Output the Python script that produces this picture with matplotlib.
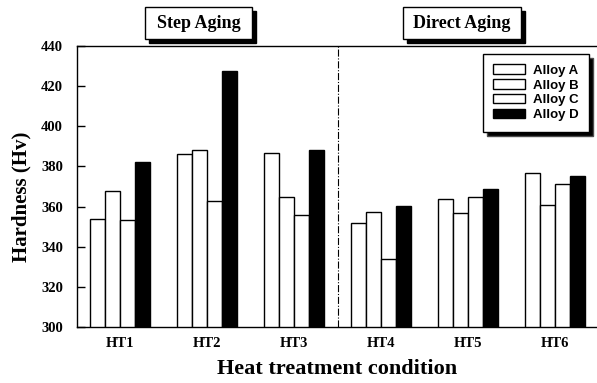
import numpy as np
import matplotlib
matplotlib.use("Agg")
import matplotlib.pyplot as plt
from matplotlib.patches import Rectangle

# hardness values
conditions = ["HT1", "HT2", "HT3", "HT4", "HT5", "HT6"]
alloy_names = ["Alloy A", "Alloy B", "Alloy C", "Alloy D"]
alloy_a = [354, 386, 386.5, 352, 364, 376.5]
alloy_b = [368, 388, 365, 357.5, 357, 361]
alloy_c = [353.5, 363, 356, 334, 365, 371]
alloy_d = [382, 427.5, 388, 360.5, 369, 375]
bar_colors = ["white", "white", "white", "black"]

serif = ["Liberation Serif", "DejaVu Serif"]
W, H = 597, 383

fig = plt.figure(figsize=(W / 100, H / 100), dpi=100)
ax = fig.add_axes([77 / W, 56 / H, 521 / W, 281 / H])

x = np.arange(len(conditions))
w = 0.173
series = [alloy_a, alloy_b, alloy_c, alloy_d]
for i in range(4):
    ax.bar(x + (i - 1.5) * w, series[i], w, color=bar_colors[i],
           edgecolor="black", linewidth=1.0, label=alloy_names[i])

ax.set_xlim(-0.5, 5.5)
ax.set_ylim(300, 440)
ax.set_yticks(np.arange(300, 441, 20))
ax.set_xticks(x)
ax.set_xticklabels(conditions, family=serif, fontweight="bold", fontsize=10.5)
for lab in ax.get_yticklabels():
    lab.set_family(serif)
    lab.set_fontweight("bold")
    lab.set_fontsize(10.5)
ax.tick_params(axis="y", direction="in", length=6, width=1, pad=10)
ax.tick_params(axis="x", length=0, pad=7)
ax.spines["right"].set_visible(False)
for s in ["left", "bottom", "top"]:
    ax.spines[s].set_linewidth(1.0)

# separator between step aging and direct aging
ax.axvline(2.5, color="black", linestyle="-.", linewidth=0.8)

ax.set_ylabel("Hardness (Hv)", family=serif, fontweight="bold", fontsize=15)
ax.yaxis.set_label_coords(-0.088, 0.463)
ax.set_xlabel("Heat treatment condition", family=serif, fontweight="bold",
              fontsize=16, labelpad=7)

leg = ax.legend(loc="upper right", bbox_to_anchor=(0.983, 0.972), borderaxespad=0,
                fancybox=False, edgecolor="black", framealpha=1,
                prop={"family": "Liberation Sans", "weight": "bold", "size": 9.5},
                handlelength=2.4, handleheight=0.7, labelspacing=0.2,
                borderpad=0.8, handletextpad=0.6,
                shadow={"ox": 3, "oy": -3, "facecolor": "black", "alpha": 1})
leg.get_frame().set_linewidth(1.0)

# boxed titles with a black drop shadow (pixel boxes from the reference)
for label, x0, x1 in [("Step Aging", 145, 252), ("Direct Aging", 403, 521)]:
    y0, y1 = 7, 39
    fig.add_artist(Rectangle(((x0 + 4) / W, 1 - (y1 + 4) / H), (x1 - x0) / W, (y1 - y0) / H,
                             transform=fig.transFigure, facecolor="black", edgecolor="black"))
    fig.add_artist(Rectangle((x0 / W, 1 - y1 / H), (x1 - x0) / W, (y1 - y0) / H,
                             transform=fig.transFigure, facecolor="white", edgecolor="black",
                             linewidth=1.0))
    fig.text((x0 + x1) / 2 / W, 1 - (y0 + y1) / 2 / H, label, ha="center", va="center",
             family=serif, fontweight="bold", fontsize=13)

fig.savefig("out.png", dpi=100)
